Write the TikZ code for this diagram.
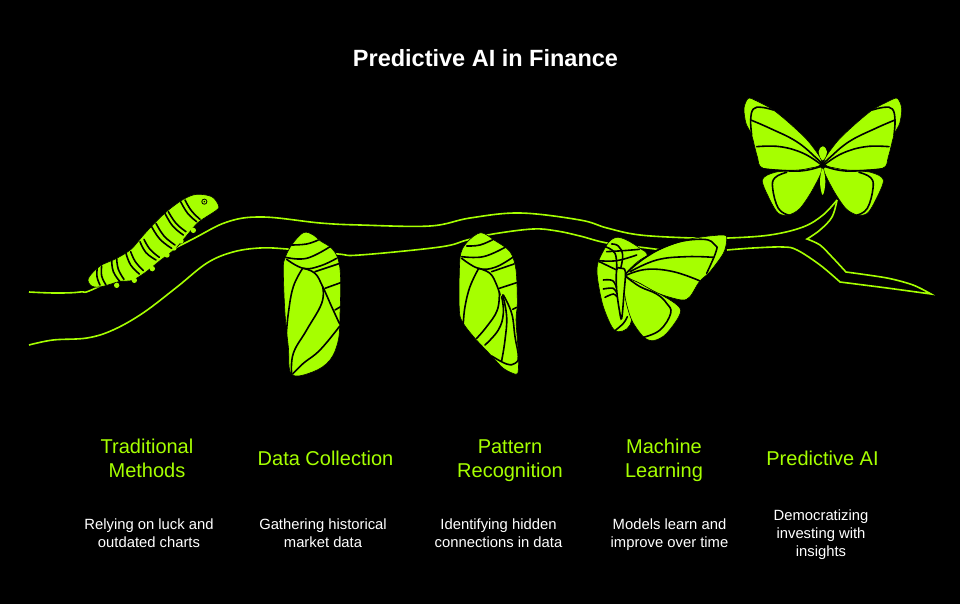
\documentclass[tikz,border=0pt]{standalone}
\usepackage{fontspec}
\setmainfont{Liberation Sans}
\definecolor{lime}{HTML}{A6FF00}
\newcommand\blob[2][0.7]{\fill[lime,draw=black,line width=0.6pt] plot[smooth cycle,tension=#1] coordinates {#2};}
\newcommand\vein[1]{\draw[black,line width=1.6pt,line cap=round] plot[smooth,tension=0.7] coordinates {#1};}
\newcommand\twig[1]{\draw[lime,line width=1.6pt] plot[smooth,tension=0.6] coordinates {#1};}
\tikzset{
 ztwo/.style={shift={(440,220)},x=0.33333pt,y=-0.33333pt},
 zone/.style={shift={(20,180)},x=0.33333pt,y=-0.33333pt},
 zthree/.style={shift={(720,85)},x=0.33333pt,y=-0.33333pt},
 heading/.style={text=white,font=\bfseries\fontsize{23.5}{28}\selectfont,align=center},
 stage/.style={text=lime,font=\fontsize{20}{24}\selectfont,align=center},
 note/.style={text=white,font=\fontsize{14.8}{18}\selectfont,align=center}
}
\newcommand\halfwing{%
 \blob[0.5]{(72,70)(85,40)(110,48)(160,75)(220,125)(270,175)(305,235)(240,255)(130,250)(112,215)(95,150)(78,115)}
 \blob[0.5]{(127,285)(165,262)(240,255)(305,248)(280,310)(240,370)(205,390)(175,385)(150,345)}
 \vein{(160,75)(125,67)(100,72)(92,105)(95,150)}
 \vein{(92,105)(150,130)(230,170)(290,220)(308,238)}
 \vein{(110,185)(180,185)(250,205)(305,240)}
 \vein{(130,252)(240,258)(308,242)}
 \vein{(200,262)(165,278)(158,310)(175,370)(205,390)}
}
\begin{document}
\begin{tikzpicture}[x=1pt,y=-1pt]
\useasboundingbox (0,0) rectangle (960,604);
\fill[black] (0,0) rectangle (960,604);
% branch
\twig{(29,292)(55,293)(80,292)(98,287)(187,242)(227,222)(263,217)(320,223)(360,225)(430,226)(470,218)(520,213)(580,220)(607,228)(640,235)(693,238)(728,238)(770,235)(803,227)(823,215)(837,200)}
\draw[lime,line width=1.6pt] plot[smooth,tension=0.6] coordinates {(837,200)(832,217)(820,230)(807,239)} -- plot[smooth,tension=0.5] coordinates {(807,239)(820,245)(833,258)(846,272)} -- plot[smooth,tension=0.5] coordinates {(846,272)(887,278)(913,285)(931,294)} -- plot[smooth,tension=0.3] coordinates {(931,294)(887,288)(840,282)} -- plot[smooth,tension=0.6] coordinates {(840,282)(820,265)(797,250)(783,247)(753,248)(727,250)};
\twig{(29,345)(53,340)(87,338)(113,330)(143,313)(177,287)(207,263)(233,252)(260,248)(287,249)(338,254)(360,255)(440,247)(467,240)(493,234)(533,229)(557,231)(580,236)(607,243)(647,248)(662,250)}
% caterpillar
\begin{scope}[zone]
\blob[0.55]{(595,75)(575,50)(530,43)(490,58)(443,92)(403,130)(368,168)(333,208)(288,236)(240,258)(205,295)(215,318)(245,320)(300,304)(335,302)(375,278)(420,242)(465,207)(500,167)(535,127)(590,90)}
\foreach \p in {(290,316),(343,301),(397,266),(441,225),(483,183),(520,151),(462,204)} \fill[lime] \p circle (8);
\vein{(232,262)(231,290)(240,315)}\vein{(245,258)(245,288)(258,315)}
\vein{(275,240)(280,275)(300,305)}\vein{(290,235)(295,268)(312,298)}
\vein{(318,220)(332,255)(358,282)}\vein{(332,215)(346,245)(370,272)}
\vein{(360,185)(378,218)(408,240)}\vein{(372,178)(390,208)(418,232)}
\vein{(395,140)(420,178)(455,205)}\vein{(408,130)(432,168)(465,195)}
\vein{(435,100)(458,138)(490,165)}\vein{(445,95)(468,130)(498,155)}
\vein{(482,65)(503,100)(530,125)}\vein{(495,60)(514,92)(540,118)}
\fill[black] (553,65) circle (9);
\fill[lime] (553,65) circle (6);
\fill[black] (553,65) circle (2.5);
% first chrysalis
\blob[0.6]{(850,158)(880,165)(900,182)(935,205)(955,240)(962,300)(960,400)(955,480)(930,540)(880,575)(815,583)(805,500)(795,400)(790,270)(795,235)(815,195)}
\vein{(815,195)(860,192)(895,180)}
\vein{(797,232)(860,235)(930,200)}
\vein{(800,238)(850,265)(900,258)(950,235)}
\vein{(885,275)(960,250)}
\vein{(850,265)(885,280)(908,320)(935,380)(958,430)}
\vein{(915,325)(962,308)}
\vein{(945,390)(962,380)}
\vein{(848,265)(820,320)(805,400)(798,475)}
\vein{(908,320)(905,370)(860,450)(820,520)(815,582)}
\vein{(958,440)(900,510)(850,550)(818,582)}
\end{scope}
% second chrysalis and emerging butterfly
\begin{scope}[ztwo]
\blob[0.5]{(122,38)(165,62)(210,95)(228,150)(232,250)(228,300)(235,400)(235,450)(228,463)(190,445)(155,408)(105,355)(70,310)(58,270)(60,115)(80,68)}
\vein{(80,78)(120,75)(160,58)}
\vein{(65,110)(130,110)(195,82)}
\vein{(65,115)(115,145)(165,142)(218,112)}
\vein{(155,155)(222,132)}
\vein{(115,145)(150,160)(170,195)(180,225)}
\vein{(178,205)(230,188)}
\vein{(115,147)(90,200)(75,260)(70,310)}
\vein{(178,215)(172,270)(140,320)(110,355)}
\vein{(185,230)(190,280)(175,330)(135,375)}
\vein{(188,225)(200,290)(195,360)(185,422)}
\vein{(190,225)(215,280)(225,350)(235,410)(225,430)(200,432)(155,408)}
\vein{(218,268)(230,262)}
% old case
\blob[0.5]{(530,52)(560,60)(600,85)(622,110)(590,200)(570,315)(525,332)(490,260)(472,170)(475,125)(505,68)}
\vein{(476,122)(530,122)(590,105)}
\vein{(500,95)(550,92)(598,88)}
\vein{(525,332)(550,310)(562,290)}
\vein{(530,150)(478,125)}
% wings
\blob[0.5]{(555,170)(555,230)(575,300)(610,350)(640,362)(680,340)(722,270)(660,222)(600,190)}
\blob[0.5]{(558,165)(600,120)(680,80)(760,55)(850,45)(860,60)(850,100)(810,155)(778,185)(750,230)(725,240)(660,222)(600,190)}
\vein{(558,160)(620,110)(700,70)(790,58)(825,75)(828,95)(800,160)}
\vein{(570,155)(650,120)(740,110)(820,112)}
\vein{(560,165)(620,148)(700,155)(778,182)}
\vein{(558,170)(600,200)(650,222)(680,250)(692,280)(660,330)(610,352)}
% body
\vein{(515,72)(535,78)(548,105)(542,145)}
\vein{(495,80)(525,100)(530,150)}
\vein{(490,180)(518,182)(530,205)}
\vein{(490,207)(520,205)(530,220)}
\vein{(495,232)(520,222)(530,230)}
\fill[lime,draw=black,line width=1.6pt] plot[smooth cycle,tension=0.6] coordinates {(530,150)(543,145)(556,155)(552,220)(545,295)(538,270)(530,210)};
\end{scope}
% final butterfly
\begin{scope}[zthree]
\halfwing
\begin{scope}[shift={(617,0)},xscale=-1]
\halfwing
\end{scope}
\fill[lime] plot[smooth cycle,tension=0.7] coordinates {(308,184)(321,200)(308,226)(296,200)};
\fill[lime] plot[smooth cycle,tension=0.7] coordinates {(308,250)(316,290)(308,330)(300,290)};
\end{scope}
% text
\node[heading] (title) at (485.5,58) {Predictive AI in Finance};
\node[stage] (s1) at (147,461) {\strut Traditional\\\strut Methods};
\node[stage] (s2) at (325.5,461) {\strut Data Collection};
\node[stage] (s3) at (510,461) {\strut Pattern\\\strut Recognition};
\node[stage] (s4) at (664,461) {\strut Machine\\\strut Learning};
\node[stage] (s5) at (822.5,461) {\strut Predictive AI};
\node[note] (n1) at (149,535) {\strut Relying on luck and\\\strut outdated charts};
\node[note] (n2) at (323,535) {\strut Gathering historical\\\strut market data};
\node[note] (n3) at (498.5,535) {\strut Identifying hidden\\\strut connections in data};
\node[note] (n4) at (669.5,535) {\strut Models learn and\\\strut improve over time};
\node[note] (n5) at (821,535) {\strut Democratizing\\\strut investing with\\\strut insights};
\end{tikzpicture}
\end{document}
